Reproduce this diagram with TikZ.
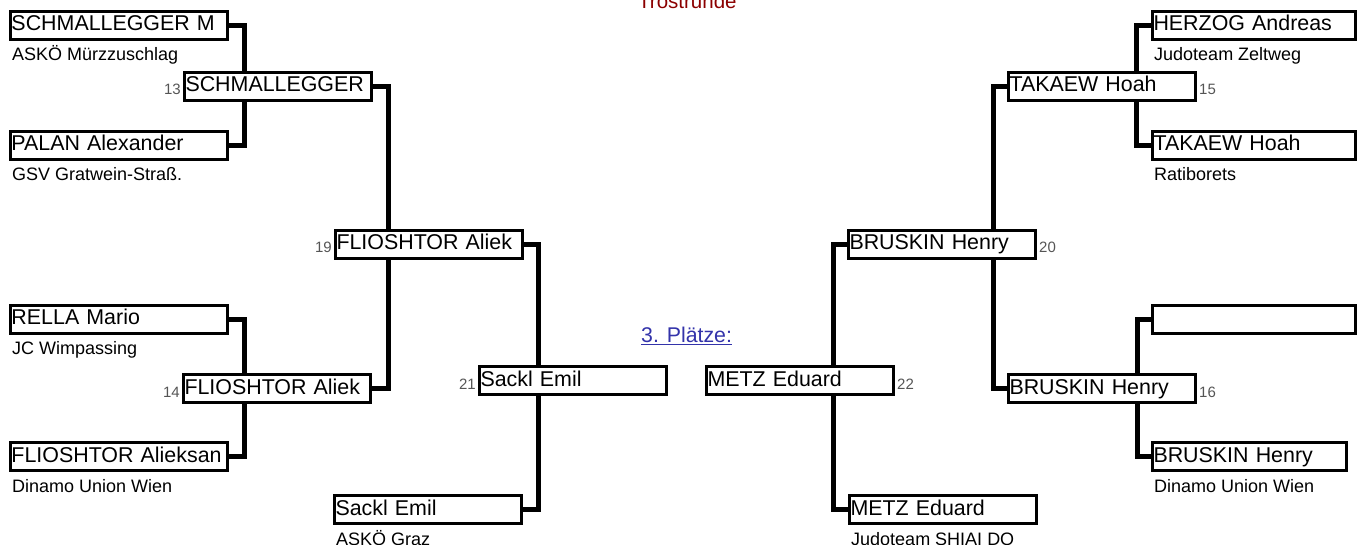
\documentclass[tikz,border=0pt]{standalone}
\usepackage{fontspec}
\setmainfont{Liberation Sans}
\usetikzlibrary{backgrounds}
\definecolor{seedgray}{RGB}{85,85,85}
\definecolor{linkblue}{RGB}{51,51,170}
\definecolor{headred}{RGB}{139,0,0}
\begin{document}
\begin{tikzpicture}[
    x=1pt, y=-1pt,
    player/.style={draw, line width=3pt, fill=white, anchor=north west,
        inner xsep=1pt, inner ysep=0pt, minimum height=28pt,
        text width=#1-5pt, align=left, text height=16pt, text depth=5pt,
        font=\fontsize{21.4}{24}\selectfont},
    player/.default=190pt,
    club/.style={anchor=base west, inner sep=0pt, font=\fontsize{18}{20}\selectfont},
    seed/.style={inner sep=0pt, text=seedgray, font=\fontsize{15}{17}\selectfont},
    bracket/.style={draw, line width=5pt}
]
\useasboundingbox (0,0) rectangle (1363,545);
\node[anchor=base west, inner sep=0pt, text=headred, font=\fontsize{20.5}{22}\selectfont] (title) at (638,9) {Trostrunde};
\node[anchor=base west, inner sep=0pt, text=linkblue, font=\fontsize{21.3}{23}\selectfont] (third) at (641,343) {\underline{3. Plätze:}};
% left half
\node[player=220pt] (p1) at (9,10) {SCHMALLEGGER M};
\node[club] (c1) at ([xshift=3pt,yshift=-20pt]p1.south west) {ASKÖ Mürzzuschlag};
\node[player=220pt] (p2) at (9,130) {PALAN Alexander};
\node[club] (c2) at ([xshift=3pt,yshift=-20pt]p2.south west) {GSV Gratwein-Straß.};
\node[player=220pt] (p3) at (9,304) {RELLA Mario};
\node[club] (c3) at ([xshift=3pt,yshift=-20pt]p3.south west) {JC Wimpassing};
\node[player=220pt] (p4) at (9,441) {FLIOSHTOR Alieksan};
\node[club] (c4) at ([xshift=3pt,yshift=-20pt]p4.south west) {Dinamo Union Wien};
\node[player] (w13) at (183,71) {SCHMALLEGGER};
\node[seed, anchor=base east] (s13) at ([xshift=-2pt,yshift=7pt]w13.south west) {13};
\node[player] (w14) at (182,373) {FLIOSHTOR Aliek};
\node[seed, anchor=base east] (s14) at ([xshift=-2pt,yshift=7pt]w14.south west) {14};
\node[player] (w19) at (334,229) {FLIOSHTOR Aliek};
\node[seed, anchor=base east] (s19) at ([xshift=-2pt,yshift=7pt]w19.south west) {19};
\node[player] (w21) at (478,365) {Sackl Emil};
\node[seed, anchor=base east] (s21) at ([xshift=-2pt,yshift=7pt]w21.south west) {21};
\node[player] (p9) at (333,494) {Sackl Emil};
\node[club] (c9) at ([xshift=3pt,yshift=-20pt]p9.south west) {ASKÖ Graz};
% right half
\node[player=206pt] (p5) at (1151,10) {HERZOG Andreas};
\node[club] (c5) at ([xshift=3pt,yshift=-20pt]p5.south west) {Judoteam Zeltweg};
\node[player=206pt] (p6) at (1151,130) {TAKAEW Hoah};
\node[club] (c6) at ([xshift=3pt,yshift=-20pt]p6.south west) {Ratiborets};
\node[player=206pt] (p7) at (1151,304) {};
\node[player=197pt] (p8) at (1151,441) {BRUSKIN Henry};
\node[club] (c8) at ([xshift=3pt,yshift=-20pt]p8.south west) {Dinamo Union Wien};
\node[player] (w15) at (1007,71) {TAKAEW Hoah};
\node[seed, anchor=base west] (s15) at ([xshift=2pt,yshift=7pt]w15.south east) {15};
\node[player] (w16) at (1007,373) {BRUSKIN Henry};
\node[seed, anchor=base west] (s16) at ([xshift=2pt,yshift=7pt]w16.south east) {16};
\node[player] (w20) at (847,229) {BRUSKIN Henry};
\node[seed, anchor=base west] (s20) at ([xshift=2pt,yshift=7pt]w20.south east) {20};
\node[player] (w22) at (705,365) {METZ Eduard};
\node[seed, anchor=base west] (s22) at ([xshift=2pt,yshift=7pt]w22.south east) {22};
\node[player] (p10) at (848,494) {METZ Eduard};
\node[club] (c10) at ([xshift=3pt,yshift=-20pt]p10.south west) {Judoteam SHIAI DO};
% brackets behind the boxes
\begin{scope}[on background layer]
\draw[bracket] (p1.east) -- ++(15,0) |- (p2.east);
\draw[bracket] (p3.east) -- ++(15,0) |- (p4.east);
\draw[bracket] (w13.east) -- ++(15,0) |- (w14.east);
\draw[bracket] (w19.east) -- ++(14,0) |- (p9.east);
\draw[bracket] (p5.west) -- ++(-15,0) |- (p6.west);
\draw[bracket] (p7.west) -- ++(-14,0) |- (p8.west);
\draw[bracket] (w15.west) -- ++(-14,0) |- (w16.west);
\draw[bracket] (w20.west) -- ++(-14,0) |- (p10.west);
\end{scope}
\end{tikzpicture}
\end{document}
